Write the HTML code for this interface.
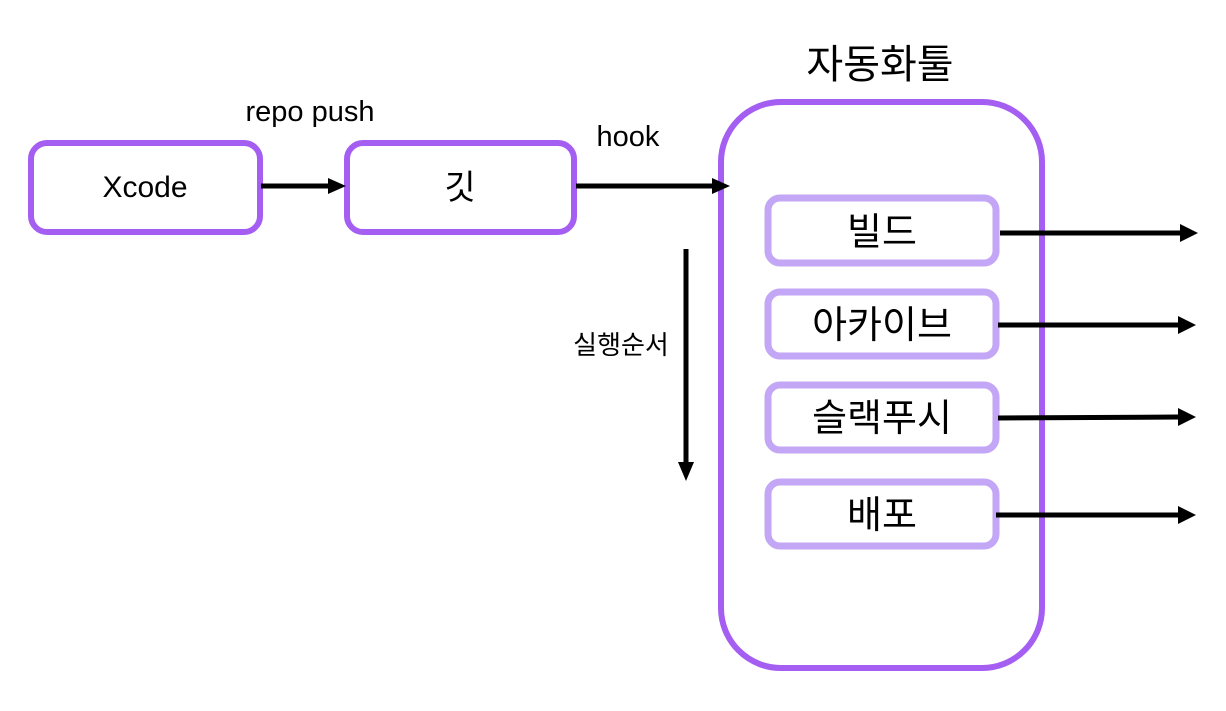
<!DOCTYPE html>
<html><head><meta charset="utf-8"><style>
body{margin:0;background:#fff;}
svg text{font-family:"Liberation Sans","Noto Sans CJK KR",sans-serif;fill:#000;}
</style></head><body>
<svg width="1226" height="706" viewBox="0 0 1226 706" xmlns="http://www.w3.org/2000/svg">
<g fill="none" stroke="#a55ef2" stroke-width="6">
<rect x="31" y="143" width="229" height="89" rx="16"/>
<rect x="347" y="143" width="227" height="89" rx="16"/>
<rect x="721" y="102" width="321" height="566" rx="60"/>
</g>
<g fill="#fff" stroke="#c3a6f5" stroke-width="7">
<rect x="768" y="198" width="228" height="65" rx="12"/>
<rect x="768" y="292" width="228" height="64" rx="12"/>
<rect x="768" y="385" width="228" height="65" rx="12"/>
<rect x="768" y="482" width="228" height="64" rx="12"/>
</g>
<g stroke="#000" stroke-width="5">
<line x1="261" y1="186" x2="330" y2="186"/>
<line x1="576" y1="186" x2="714" y2="186"/>
<line x1="1000" y1="233" x2="1182" y2="233"/>
<line x1="998" y1="325" x2="1180" y2="325"/>
<line x1="998" y1="418" x2="1180" y2="417"/>
<line x1="996" y1="515" x2="1180" y2="515"/>
<line x1="686" y1="249" x2="686" y2="464"/>
</g>
<g fill="#000">
<path d="M328,178 L346,186 L328,194Z"/>
<path d="M712,178 L730,186 L712,194Z"/>
<path d="M1180,224 L1198,233 L1180,242Z"/>
<path d="M1178,316 L1196,325 L1178,334Z"/>
<path d="M1178,408 L1196,417 L1178,426Z"/>
<path d="M1178,506 L1196,515 L1178,524Z"/>
<path d="M678,462 L686,481 L694,462Z"/>
</g>
<text x="145" y="197" font-size="30" text-anchor="middle">Xcode</text>
<text x="460" y="199" font-size="34" text-anchor="middle">깃</text>
<text x="310" y="121" font-size="29" text-anchor="middle">repo push</text>
<text x="628" y="146" font-size="29" text-anchor="middle">hook</text>
<text x="880" y="78" font-size="40" text-anchor="middle">자동화툴</text>
<text x="621" y="354" font-size="26" text-anchor="middle">실행순서</text>
<text x="882" y="245" font-size="38" text-anchor="middle">빌드</text>
<text x="882" y="338" font-size="38" text-anchor="middle">아카이브</text>
<text x="882" y="431" font-size="38" text-anchor="middle">슬랙푸시</text>
<text x="882" y="528" font-size="38" text-anchor="middle">배포</text>
</svg>
</body></html>
